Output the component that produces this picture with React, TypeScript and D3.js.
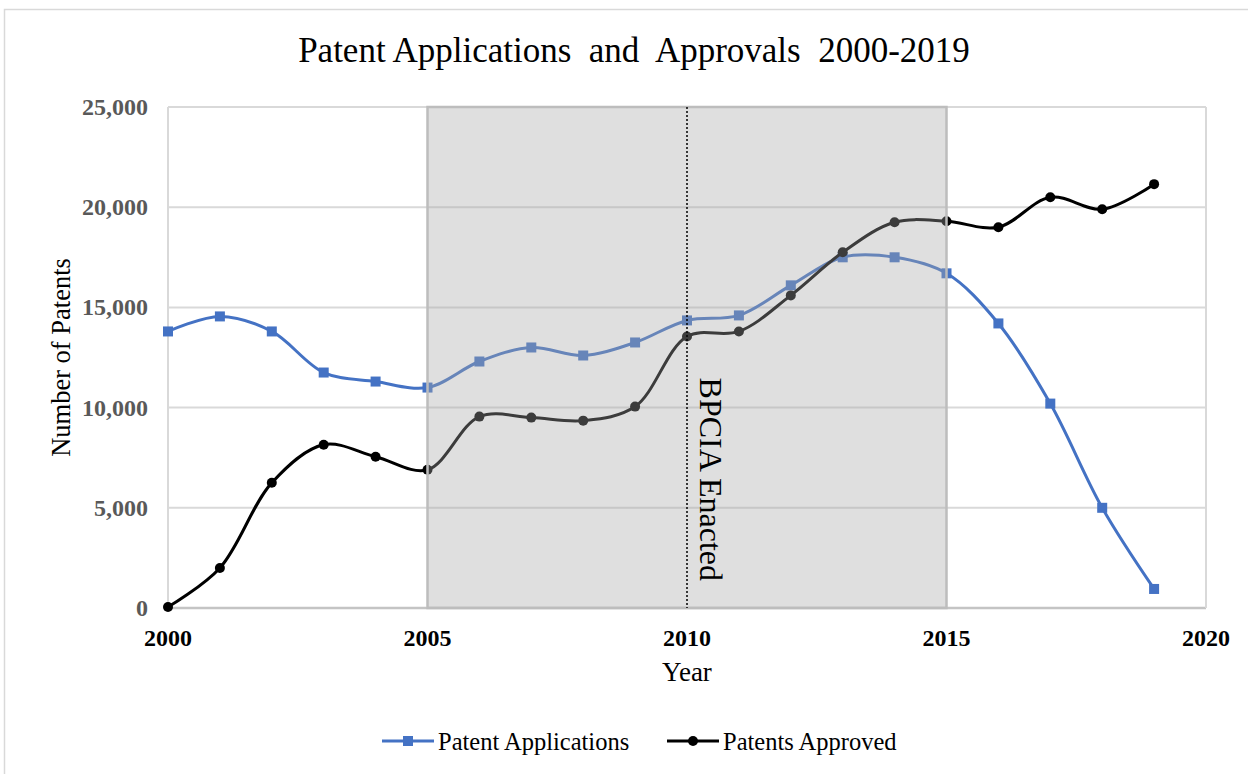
import React, { useEffect, useRef } from 'react';
import * as d3 from 'd3';

const years = [2000, 2001, 2002, 2003, 2004, 2005, 2006, 2007, 2008, 2009, 2010, 2011, 2012, 2013, 2014, 2015, 2016, 2017, 2018, 2019];
const applications = [13800, 14550, 13800, 11750, 11300, 11000, 12300, 13000, 12600, 13250, 14350, 14600, 16100, 17500, 17500, 16700, 14200, 10200, 5000, 950];
const approved = [50, 2000, 6250, 8150, 7550, 6900, 9550, 9500, 9350, 10050, 13550, 13800, 15600, 17750, 19250, 19300, 19000, 20500, 19900, 21150];
const xTicks = [2000, 2005, 2010, 2015, 2020];
const yTicks = [0, 5000, 10000, 15000, 20000, 25000];
const shadeRange = [2005, 2015];
const enactedYear = 2010;

export default function App() {
  const ref = useRef<SVGSVGElement>(null);

  useEffect(() => {
    const svg = d3.select(ref.current);
    svg.selectAll('*').remove();

    const width = 1248;
    const height = 774;
    const margin = { top: 107, right: 42, bottom: 166, left: 168 };
    const plotW = width - margin.left - margin.right;
    const plotH = height - margin.top - margin.bottom;
    const serif = '"Liberation Serif", "Times New Roman", serif';

    // outer chart border
    svg.append('rect')
      .attr('x', 4.5).attr('y', 9.5)
      .attr('width', 1300).attr('height', 900)
      .attr('fill', 'white')
      .attr('stroke', '#d9d9d9').attr('stroke-width', 1.5);

    const x = d3.scaleLinear().domain([2000, 2020]).range([0, plotW]);
    const y = d3.scaleLinear().domain([0, 25000]).range([plotH, 0]);

    const g = svg.append('g').attr('transform', `translate(${margin.left},${margin.top})`);

    // gridlines
    g.selectAll('.grid')
      .data(yTicks)
      .enter()
      .append('line')
      .attr('x1', 0).attr('x2', plotW)
      .attr('y1', d => y(d)).attr('y2', d => y(d))
      .attr('stroke', d => (d === 0 ? '#c4c4c4' : '#d9d9d9'))
      .attr('stroke-width', d => (d === 0 ? 2.5 : 2));
    g.selectAll('.vborder')
      .data([2000, 2020])
      .enter()
      .append('line')
      .attr('x1', d => x(d)).attr('x2', d => x(d))
      .attr('y1', 0).attr('y2', plotH)
      .attr('stroke', '#d9d9d9').attr('stroke-width', 2);

    // y tick labels
    g.selectAll('.ylab')
      .data(yTicks)
      .enter()
      .append('text')
      .text(d => d3.format(',')(d))
      .attr('x', -20)
      .attr('y', d => y(d) + 8)
      .attr('text-anchor', 'end')
      .attr('font-family', serif)
      .attr('font-weight', 'bold')
      .attr('font-size', 24)
      .attr('fill', '#595959');

    // x tick labels
    g.selectAll('.xlab')
      .data(xTicks)
      .enter()
      .append('text')
      .text(d => String(d))
      .attr('x', d => x(d))
      .attr('y', plotH + 38)
      .attr('text-anchor', 'middle')
      .attr('font-family', serif)
      .attr('font-weight', 'bold')
      .attr('font-size', 24)
      .attr('fill', 'black');

    const series = [
      { name: 'Patent Applications', values: applications, color: '#4472c4', marker: 'square' },
      { name: 'Patents Approved', values: approved, color: '#000000', marker: 'circle' },
    ];

    const line = d3.line<number>()
      .x((d, i) => x(years[i]))
      .y(d => y(d))
      .curve(d3.curveCatmullRom.alpha(0.5));

    series.forEach(s => {
      g.append('path')
        .attr('d', line(s.values))
        .attr('fill', 'none')
        .attr('stroke', s.color)
        .attr('stroke-width', 3);
      if (s.marker === 'square') {
        g.selectAll(null)
          .data(s.values)
          .enter()
          .append('rect')
          .attr('x', (d, i) => x(years[i]) - 5)
          .attr('y', d => y(d) - 5)
          .attr('width', 10).attr('height', 10)
          .attr('fill', s.color);
      } else {
        g.selectAll(null)
          .data(s.values)
          .enter()
          .append('circle')
          .attr('cx', (d, i) => x(years[i]))
          .attr('cy', d => y(d))
          .attr('r', 5)
          .attr('fill', s.color);
      }
    });

    // shaded period, drawn over the lines
    g.append('rect')
      .attr('x', x(shadeRange[0])).attr('y', 0)
      .attr('width', x(shadeRange[1]) - x(shadeRange[0]))
      .attr('height', plotH)
      .attr('fill', '#a6a6a6').attr('fill-opacity', 0.36)
      .attr('stroke', '#bdbdbd').attr('stroke-width', 2.5);

    // enactment line
    g.append('line')
      .attr('x1', x(enactedYear)).attr('x2', x(enactedYear))
      .attr('y1', 0).attr('y2', plotH)
      .attr('stroke', 'black').attr('stroke-width', 1.5)
      .attr('stroke-dasharray', '2,2');
    g.append('text')
      .text('BPCIA Enacted')
      .attr('transform', `translate(${x(enactedYear) + 13},${y(11500)}) rotate(90)`)
      .attr('font-family', serif)
      .attr('font-size', 32)
      .attr('fill', 'black');

    // titles
    svg.append('text')
      .text('Patent Applications  and  Approvals  2000-2019')
      .attr('x', 634).attr('y', 62)
      .attr('text-anchor', 'middle')
      .attr('font-family', serif)
      .attr('font-size', 35)
      .attr('fill', 'black')
      .style('white-space', 'pre');
    svg.append('text')
      .text('Year')
      .attr('x', margin.left + plotW / 2).attr('y', 681)
      .attr('text-anchor', 'middle')
      .attr('font-family', serif)
      .attr('font-size', 27)
      .attr('fill', 'black');
    svg.append('text')
      .text('Number of Patents')
      .attr('transform', `translate(70,${margin.top + plotH / 2}) rotate(-90)`)
      .attr('text-anchor', 'middle')
      .attr('font-family', serif)
      .attr('font-size', 26.5)
      .attr('fill', 'black');

    // legend
    const legend = svg.append('g');
    const legendItems = [
      { s: series[0], x0: 382 },
      { s: series[1], x0: 667 },
    ];
    legendItems.forEach(item => {
      const ly = 741;
      legend.append('line')
        .attr('x1', item.x0).attr('x2', item.x0 + 52)
        .attr('y1', ly).attr('y2', ly)
        .attr('stroke', item.s.color).attr('stroke-width', 3);
      if (item.s.marker === 'square') {
        legend.append('rect')
          .attr('x', item.x0 + 21).attr('y', ly - 5)
          .attr('width', 10).attr('height', 10)
          .attr('fill', item.s.color);
      } else {
        legend.append('circle')
          .attr('cx', item.x0 + 26).attr('cy', ly)
          .attr('r', 5)
          .attr('fill', item.s.color);
      }
      legend.append('text')
        .text(item.s.name)
        .attr('x', item.x0 + 56).attr('y', ly + 9)
        .attr('font-family', serif)
        .attr('font-size', 24.5)
        .attr('fill', 'black');
    });
  }, []);

  return (
    <svg ref={ref} width={1248} height={774} style={{ position: 'absolute', left: 0, top: 0 }} />
  );
}
